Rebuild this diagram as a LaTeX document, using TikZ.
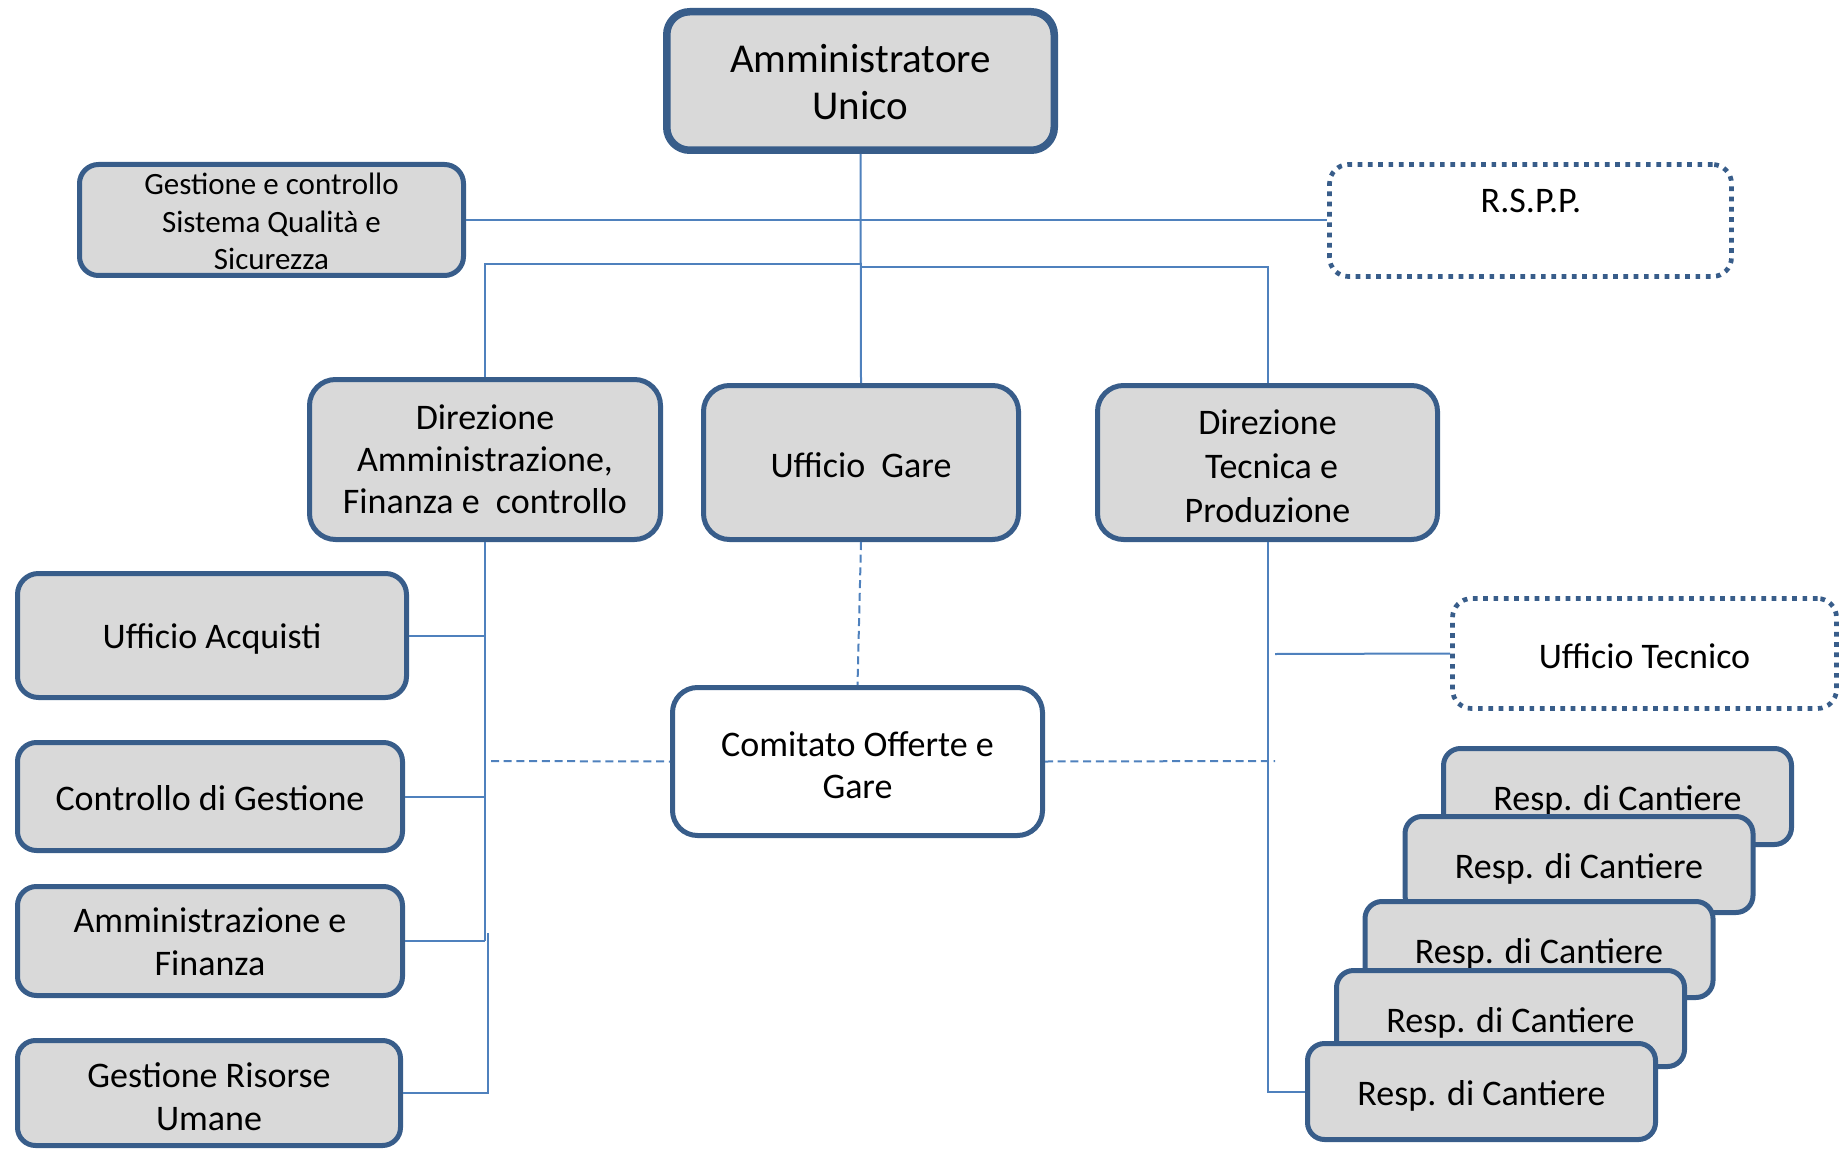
\documentclass[tikz,border=0pt]{standalone}
\usepackage{fontspec}
\setmainfont{Carlito}
\definecolor{bord}{HTML}{385D8A}
\definecolor{boxfill}{HTML}{D9D9D9}
\definecolor{conn}{HTML}{4F81BD}
\begin{document}
\begin{tikzpicture}[x=1pt,y=-1pt,
  orgbox/.style={draw=bord, fill=boxfill, line width=5pt, inner sep=0pt},
  whitebox/.style={orgbox, fill=white},
  dotbox/.style={draw=bord, fill=white, line width=4.7pt, dash pattern=on 4.7pt off 5.6pt, inner sep=0pt},
  respbox/.style={orgbox, rounded corners=17pt, minimum width=348pt, minimum height=96pt},
  lab/.style={align=center, inner sep=0pt, font=\fontsize{36}{42}\selectfont},
  link/.style={draw=conn, line width=2pt},
  dlink/.style={draw=conn, line width=2pt, dash pattern=on 8pt off 4.7pt},
  txt/.style={font=\fontsize{36}{42}\selectfont, inner sep=0pt}]
\useasboundingbox (0,0) rectangle (1841,1150);

% boxes
\node[orgbox, line width=7.5pt, rounded corners=23pt, minimum width=387.5pt, minimum height=138.5pt,
  label={[lab, yshift=-1.2pt, font=\fontsize{41}{47}\selectfont]center:Amministratore\\Unico}] (amm) at (860.5,81) {};
\node[orgbox, rounded corners=19pt, minimum width=384pt, minimum height=111pt,
  label={[lab, yshift=-1.8pt, font=\fontsize{31}{37.5}\selectfont]center:Gestione e controllo\\Sistema Qualità e\\Sicurezza}] (gest) at (271.5,220) {};
\node[dotbox, rounded corners=19pt, minimum width=402pt, minimum height=112pt] (rspp) at (1530.5,220.5) {};
\node[txt, anchor=base] (rsppt) at (1531,213) {R.S.P.P.};

\node[orgbox, rounded corners=26pt, minimum width=351pt, minimum height=160pt,
  label={[lab]center:Direzione\\Amministrazione,\\Finanza e~ controllo}] (diramm) at (485,459.5) {};
\node[orgbox, rounded corners=26pt, minimum width=315pt, minimum height=154pt,
  label={[lab, yshift=-2.3pt]center:Ufficio~ Gare}] (gare) at (861,462.5) {};
\node[orgbox, rounded corners=26pt, minimum width=340pt, minimum height=154pt,
  label={[lab, yshift=-3.5pt, font=\fontsize{36}{44}\selectfont]center:Direzione\\~Tecnica e\\Produzione}] (dirtec) at (1267.5,462.5) {};

\node[orgbox, rounded corners=21pt, minimum width=389pt, minimum height=124pt,
  label={[lab, yshift=-3.5pt]center:Ufficio Acquisti}] (uacq) at (212,635.5) {};
\node[orgbox, rounded corners=19pt, minimum width=385pt, minimum height=108pt,
  label={[lab, yshift=-1.2pt]center:Controllo di Gestione}] (cdg) at (210,796.5) {};
\node[orgbox, rounded corners=19pt, minimum width=385pt, minimum height=109pt,
  label={[lab, yshift=-0.6pt, font=\fontsize{36}{43}\selectfont]center:Amministrazione e\\Finanza}] (amfin) at (210,941) {};
\node[orgbox, rounded corners=18pt, minimum width=383pt, minimum height=105pt,
  label={[lab, yshift=-3.5pt, font=\fontsize{36}{43.5}\selectfont]center:Gestione Risorse\\Umane}] (gru) at (209,1093) {};

\node[whitebox, rounded corners=25pt, minimum width=370pt, minimum height=148pt,
  label={[lab, yshift=-3.5pt]center:Comitato Offerte e\\Gare}] (comit) at (857.5,761.5) {};

\node[dotbox, rounded corners=19pt, minimum width=384pt, minimum height=110pt,
  label={[lab, yshift=-2.3pt]center:Ufficio Tecnico}] (ut) at (1644.5,653.5) {};

\node[respbox, label={[lab, yshift=-4pt]center:Resp. di Cantiere}] (r1) at (1617.5,796.5) {};
\node[respbox, label={[lab, yshift=-4.5pt]center:Resp. di Cantiere}] (r2) at (1579,864.5) {};
\node[respbox, label={[lab, yshift=-4pt]center:Resp. di Cantiere}] (r3) at (1539,949.5) {};
\node[respbox, label={[lab, yshift=-4.5pt]center:Resp. di Cantiere}] (r4) at (1510.5,1018.5) {};
\node[respbox, label={[lab, yshift=-4.5pt]center:Resp. di Cantiere}] (r5) at (1481.5,1091.5) {};

% connectors
\coordinate (jl) at (861,264);
\coordinate (jr) at (861,267);
\coordinate (g1) at (488,933);
\coordinate (dl) at (491,761);
\coordinate (dr) at (1275,761);
\coordinate (ut0) at (1275,654);

\draw[link] (amm.south) -- (gare.north);
\draw[link] (gest.east) -- (gest.east -| rspp.west);
\draw[link] (jl) -| (diramm.north);
\draw[link] (jr) -| (dirtec.north);
\draw[link] (diramm.south) -- (diramm.south |- amfin.east);
\draw[link] (uacq.east) -- (uacq.east -| diramm.south);
\draw[link] (cdg.east) -- (cdg.east -| diramm.south);
\draw[link] (amfin.east) -- (amfin.east -| diramm.south);
\draw[link] (g1) |- (gru.east);
\draw[dlink] (gare.south) -- (comit.north);
\draw[dlink] (dl) -- (comit.west);
\draw[dlink] (comit.east) -- (dr);
\draw[link] (dirtec.south) |- (r5.west);
\draw[link] (ut0) -- (ut.west);
\end{tikzpicture}
\end{document}
